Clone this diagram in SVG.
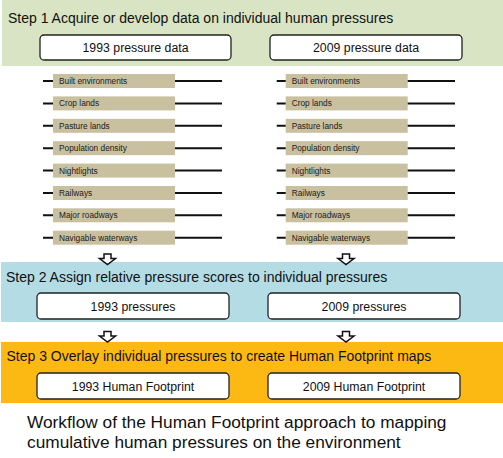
<svg xmlns="http://www.w3.org/2000/svg" width="503" height="458" viewBox="0 0 503 458">
<defs>
<style>
.t{font-family:"Liberation Sans",Arial,sans-serif;fill:#111}
.title{font-size:14px}
.bx{fill:#fff;stroke:#222;stroke-width:1.3}
.bt{font-size:12.3px;text-anchor:middle}
.tan{fill:#c9c0a0}
.lt{font-size:8.3px;fill:#1a1a1a}
.ln{stroke:#111;stroke-width:2}
.ar{fill:#fff;stroke:#111;stroke-width:1.5;stroke-linejoin:miter}
</style>
<path id="arr" d="M-3.5,0 H3.5 V4.5 H8 L0,10.5 L-8,4.5 H-3.5 Z"/>
</defs>
<rect width="503" height="458" fill="#fff"/>

<g id="step1">
<rect x="2" y="0" width="501" height="66" fill="#d8e4c3"/>
<text class="t title" x="8" y="23">Step 1 Acquire or develop data on individual human pressures</text>
</g>
<g id="data1993">
<rect class="bx" x="40" y="35" width="191" height="25" rx="4"/>
<text class="t bt" x="135.5" y="52">1993 pressure data</text>
</g>
<g id="data2009">
<rect class="bx" x="270" y="35" width="192" height="25" rx="4"/>
<text class="t bt" x="366" y="52">2009 pressure data</text>
</g>

<g id="step2">
<rect x="1" y="262" width="502" height="60" fill="#b4dce5"/>
<text class="t title" x="6" y="282">Step 2 Assign relative pressure scores to individual pressures</text>
</g>
<g id="press1993">
<rect class="bx" x="37" y="293" width="192" height="26" rx="4"/>
<text class="t bt" x="133" y="310.5">1993 pressures</text>
</g>
<g id="press2009">
<rect class="bx" x="268" y="293" width="192" height="26" rx="4"/>
<text class="t bt" x="364" y="310.5">2009 pressures</text>
</g>

<g id="step3">
<rect x="1" y="342" width="502" height="61" fill="#fdb913"/>
<text class="t title" x="6.5" y="361">Step 3 Overlay individual pressures to create Human Footprint maps</text>
</g>
<g id="hf1993">
<rect class="bx" x="37" y="373" width="192" height="26" rx="4"/>
<text class="t bt" x="133" y="390.5">1993 Human Footprint</text>
</g>
<g id="hf2009">
<rect class="bx" x="268" y="373" width="192" height="26" rx="4"/>
<text class="t bt" x="364" y="390.5">2009 Human Footprint</text>
</g>

<g id="layers1993">
<g transform="translate(0,81)"><rect class="tan" x="53" y="-7" width="122" height="14"/><text class="t lt" x="59" y="3">Built environments</text></g>
<g transform="translate(0,103.4)"><rect class="tan" x="53" y="-7" width="122" height="14"/><text class="t lt" x="59" y="3">Crop lands</text></g>
<g transform="translate(0,125.8)"><rect class="tan" x="53" y="-7" width="122" height="14"/><text class="t lt" x="59" y="3">Pasture lands</text></g>
<g transform="translate(0,148.2)"><rect class="tan" x="53" y="-7" width="122" height="14"/><text class="t lt" x="59" y="3">Population density</text></g>
<g transform="translate(0,170.6)"><rect class="tan" x="53" y="-7" width="122" height="14"/><text class="t lt" x="59" y="3">Nightlights</text></g>
<g transform="translate(0,193)"><rect class="tan" x="53" y="-7" width="122" height="14"/><text class="t lt" x="59" y="3">Railways</text></g>
<g transform="translate(0,215.3)"><rect class="tan" x="53" y="-7" width="122" height="14"/><text class="t lt" x="59" y="3">Major roadways</text></g>
<g transform="translate(0,237.7)"><rect class="tan" x="53" y="-7" width="122" height="14"/><text class="t lt" x="59" y="3">Navigable waterways</text></g>
</g>

<g id="layers2009">
<g transform="translate(0,81)"><rect class="tan" x="285.7" y="-7" width="122" height="14"/><text class="t lt" x="291.7" y="3">Built environments</text></g>
<g transform="translate(0,103.4)"><rect class="tan" x="285.7" y="-7" width="122" height="14"/><text class="t lt" x="291.7" y="3">Crop lands</text></g>
<g transform="translate(0,125.8)"><rect class="tan" x="285.7" y="-7" width="122" height="14"/><text class="t lt" x="291.7" y="3">Pasture lands</text></g>
<g transform="translate(0,148.2)"><rect class="tan" x="285.7" y="-7" width="122" height="14"/><text class="t lt" x="291.7" y="3">Population density</text></g>
<g transform="translate(0,170.6)"><rect class="tan" x="285.7" y="-7" width="122" height="14"/><text class="t lt" x="291.7" y="3">Nightlights</text></g>
<g transform="translate(0,193)"><rect class="tan" x="285.7" y="-7" width="122" height="14"/><text class="t lt" x="291.7" y="3">Railways</text></g>
<g transform="translate(0,215.3)"><rect class="tan" x="285.7" y="-7" width="122" height="14"/><text class="t lt" x="291.7" y="3">Major roadways</text></g>
<g transform="translate(0,237.7)"><rect class="tan" x="285.7" y="-7" width="122" height="14"/><text class="t lt" x="291.7" y="3">Navigable waterways</text></g>
</g>

<g id="connectors">
<path class="ln" d="M43,81H53M175,81H222M43,103.4H53M175,103.4H222M43,125.8H53M175,125.8H222M43,148.2H53M175,148.2H222M43,170.6H53M175,170.6H222M43,193H53M175,193H222M43,215.3H53M175,215.3H222M43,237.7H53M175,237.7H222"/>
<path class="ln" d="M276.7,81H285.7M407.7,81H455M276.7,103.4H285.7M407.7,103.4H455M276.7,125.8H285.7M407.7,125.8H455M276.7,148.2H285.7M407.7,148.2H455M276.7,170.6H285.7M407.7,170.6H455M276.7,193H285.7M407.7,193H455M276.7,215.3H285.7M407.7,215.3H455M276.7,237.7H285.7M407.7,237.7H455"/>
<use href="#arr" class="ar" transform="translate(107.5,254)"/>
<use href="#arr" class="ar" transform="translate(346,254)"/>
<use href="#arr" class="ar" transform="translate(107.5,331.5)"/>
<use href="#arr" class="ar" transform="translate(346,331.5)"/>
</g>

<g id="caption">
<text class="t" x="27" y="428" font-size="17.3">Workflow of the Human Footprint approach to mapping</text>
<text class="t" x="27" y="447.5" font-size="17.3">cumulative human pressures on the environment</text>
</g>
</svg>
